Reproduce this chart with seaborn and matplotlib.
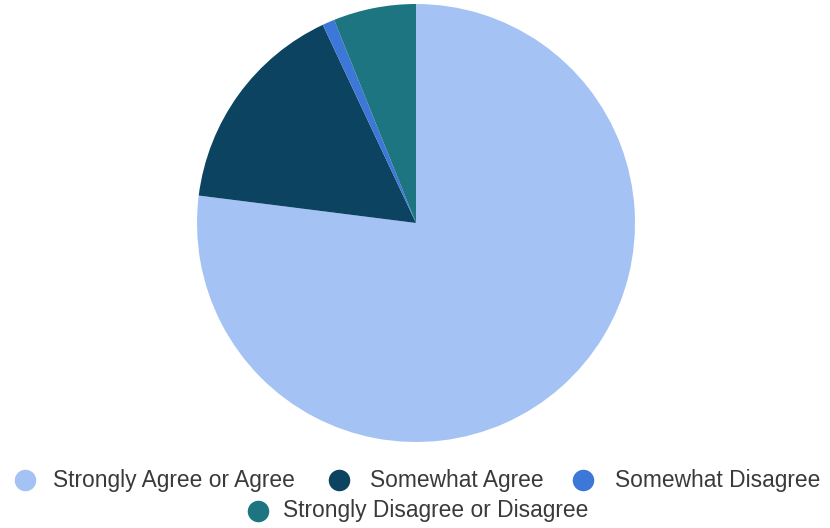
import matplotlib
matplotlib.use("Agg")
import matplotlib.pyplot as plt
import seaborn as sns

sns.set_theme(style="white")
plt.rcParams['font.family'] = ['Liberation Sans', 'DejaVu Sans']

categories = ["Strongly Agree or Agree", "Somewhat Agree", "Somewhat Disagree",
              "Strongly Disagree or Disagree"]
values = [77.0, 16.0, 0.9, 6.1]
colors = ["#a4c2f4", "#0b4360", "#3d78d8", "#1d7581"]

W, H = 830, 528
fig = plt.figure(figsize=(W / 100, H / 100), dpi=100)
cx, cy, r = 416, 223, 219
ax = fig.add_axes([(cx - r) / W, (H - cy - r) / H, 2 * r / W, 2 * r / H])
ax.pie(values, colors=colors, startangle=90, counterclock=False,
       wedgeprops=dict(linewidth=0))
ax.set_aspect("equal")
ax.set_xlim(-1, 1)
ax.set_ylim(-1, 1)
ax.axis("off")

# legend overlay in pixel coordinates
lax = fig.add_axes([0, 0, 1, 1])
lax.set_xlim(0, W)
lax.set_ylim(H, 0)
lax.axis("off")
layout = [(25, 53, 480), (339, 370, 480), (583, 615, 480), (258, 283, 511)]
for (mx, tx, y), lab, col in zip(layout, categories, colors):
    lax.scatter([mx], [y], s=240, color=col, linewidths=0)
    lax.text(tx, y, lab, fontsize=16.4, color="#3a3a3a", va="center", ha="left")

fig.savefig("out.png", dpi=100)
